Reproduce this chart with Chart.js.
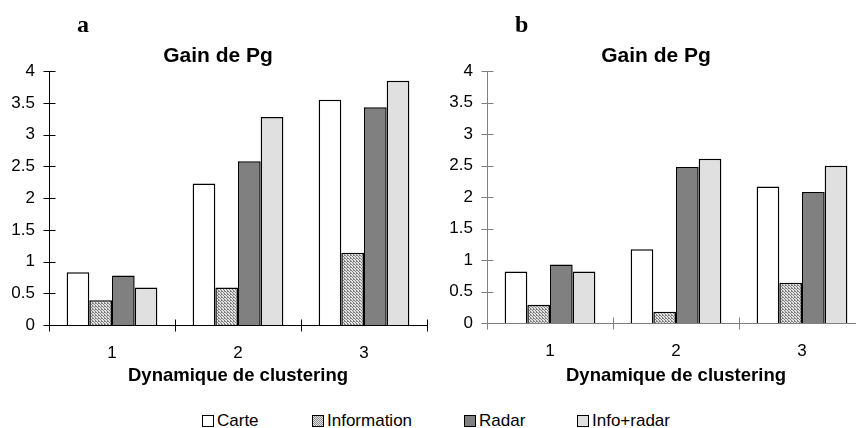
<!DOCTYPE html>
<html>
<head>
<meta charset="utf-8">
<script src="https://cdn.jsdelivr.net/npm/chart.js@4.4.0/dist/chart.umd.min.js"></script>
<style>
    html, body { margin: 0; padding: 0; background: #fff; }
    body { width: 856px; height: 428px; position: relative; overflow: hidden; font-family: "Liberation Sans", Arial, sans-serif; }
    .panel { position: absolute; top: 0; width: 436px; height: 387px; }
    .tag { position: absolute; top: 11px; font: bold 24px "Liberation Serif", "Times New Roman", serif; color: #000; }
    .legend { position: absolute; top: 411px; font-size: 17px; color: #000; white-space: nowrap; }
    .legend span.box { display: inline-block; width: 10px; height: 10px; border: 1px solid #000; margin-right: 3px; vertical-align: -1px; }
</style>
</head>
<body>
<div class="panel" style="left:0px"><canvas id="chartA"></canvas></div>
<div class="panel" style="left:438px"><canvas id="chartB"></canvas></div>
<div class="tag" style="left:77px">a</div>
<div class="tag" style="left:515px">b</div>
<div class="legend" style="left:202px"><span class="box" style="background:#fff"></span>Carte</div>
<div class="legend" style="left:312px"><span class="box" style="background:repeating-conic-gradient(#8c8c8c 0 25%, #e4e4e4 0 50%) 0 0/2px 2px"></span>Information</div>
<div class="legend" style="left:464px"><span class="box" style="background:#808080"></span>Radar</div>
<div class="legend" style="left:577px"><span class="box" style="background:#e0e0e0"></span>Info+radar</div>
<script>
// data
var categories = ['1', '2', '3'];
var seriesNames = ['Carte', 'Information', 'Radar', 'Info+radar'];
var yTicks = [0, 0.5, 1, 1.5, 2, 2.5, 3, 3.5, 4];

var carteA = [0.83, 2.23, 3.55];
var infoA = [0.39, 0.59, 1.14];
var radarA = [0.78, 2.58, 3.43];
var infoRadarA = [0.59, 3.28, 3.85];

var carteB = [0.82, 1.17, 2.17];
var infoB = [0.29, 0.18, 0.64];
var radarB = [0.93, 2.48, 2.08];
var infoRadarB = [0.82, 2.61, 2.50];

function stipple() {
    var c = document.createElement('canvas');
    c.width = 3; c.height = 3;
    var g = c.getContext('2d');
    g.fillStyle = '#e2e2e2'; g.fillRect(0, 0, 3, 3);
    g.fillStyle = '#808080';
    g.fillRect(0, 0, 1, 1); g.fillRect(1, 1, 1, 1); g.fillRect(2, 2, 1, 1);
    g.fillRect(2, 0, 1, 1);
    return g.createPattern(c, 'repeat');
}

var fills = ['#ffffff', stipple(), '#808080', '#e0e0e0'];

// axis lines with tick marks crossing the axis (drawn from the scales)
var crossAxes = {
    id: 'crossAxes',
    afterDatasetsDraw: function(chart, args, opts) {
        var ctx = chart.ctx, x = chart.scales.x, y = chart.scales.y;
        var ax = Math.round(x.left) + 0.5;
        var y0 = Math.round(y.getPixelForValue(0)) + 0.5;
        ctx.save();
        ctx.strokeStyle = opts.color;
        ctx.lineWidth = 1;
        ctx.beginPath();
        ctx.moveTo(ax, Math.round(y.getPixelForValue(yTicks[yTicks.length - 1])));
        ctx.lineTo(ax, y0);
        yTicks.forEach(function(v) {
            var py = Math.round(y.getPixelForValue(v)) + 0.5;
            ctx.moveTo(ax - 6, py); ctx.lineTo(ax + 6, py);
        });
        ctx.moveTo(x.left, y0); ctx.lineTo(x.right, y0);
        for (var i = 0; i <= categories.length; i++) {
            var px = Math.round(x.getPixelForValue(i - 0.5)) + 0.5;
            ctx.moveTo(px, y0 - 6); ctx.lineTo(px, y0 + 6);
        }
        ctx.stroke();
        ctx.restore();
    }
};

function makeChart(id, series, axisColor, axisHeight) {
    var ctx = document.getElementById(id).getContext('2d');
    return new Chart(ctx, {
        type: 'bar',
        data: {
            labels: categories,
            datasets: series.map(function(vals, i) {
                return {
                    label: seriesNames[i],
                    data: vals,
                    backgroundColor: fills[i],
                    borderColor: '#000',
                    borderWidth: 1.5,
                    categoryPercentage: 0.72,
                    barPercentage: 1
                };
            })
        },
        options: {
            responsive: false,
            animation: false,
            layout: { padding: { left: 9, right: 9, top: 0, bottom: 0 } },
            plugins: {
                legend: { display: false },
                tooltip: { enabled: false },
                title: {
                    display: true,
                    text: 'Gain de Pg',
                    color: '#000',
                    font: { family: '"Liberation Sans", Arial, sans-serif', size: 21, weight: 'bold', lineHeight: 1.2 },
                    padding: { top: 44, bottom: 2 }
                },
                crossAxes: { color: axisColor }
            },
            scales: {
                x: {
                    grid: { display: false, drawTicks: false },
                    border: { display: false },
                    ticks: { color: '#000', padding: 18, font: { family: '"Liberation Sans", Arial, sans-serif', size: 17 } },
                    title: {
                        display: true,
                        text: 'Dynamique de clustering',
                        color: '#000',
                        padding: { top: 0, bottom: 0 },
                        font: { family: '"Liberation Sans", Arial, sans-serif', size: 18.5, weight: 'bold', lineHeight: 1.2 }
                    },
                    afterFit: function(scale) { scale.height = axisHeight; }
                },
                y: {
                    min: 0,
                    max: 4,
                    afterBuildTicks: function(scale) {
                        scale.ticks = yTicks.map(function(v) { return { value: v }; });
                    },
                    grid: { display: false, drawTicks: false },
                    border: { display: false },
                    ticks: {
                        color: '#000',
                        padding: 14,
                        font: { family: '"Liberation Sans", Arial, sans-serif', size: 17 },
                        callback: function(v) { return String(v); }
                    },
                    afterFit: function(scale) { scale.width = 40; }
                }
            }
        },
        plugins: [crossAxes]
    });
}

document.getElementById('chartA').width = 436;
document.getElementById('chartA').height = 387;
document.getElementById('chartB').width = 436;
document.getElementById('chartB').height = 387;

makeChart('chartA', [carteA, infoA, radarA, infoRadarA], '#000000', 62);
makeChart('chartB', [carteB, infoB, radarB, infoRadarB], '#808080', 64);
</script>
</body>
</html>
